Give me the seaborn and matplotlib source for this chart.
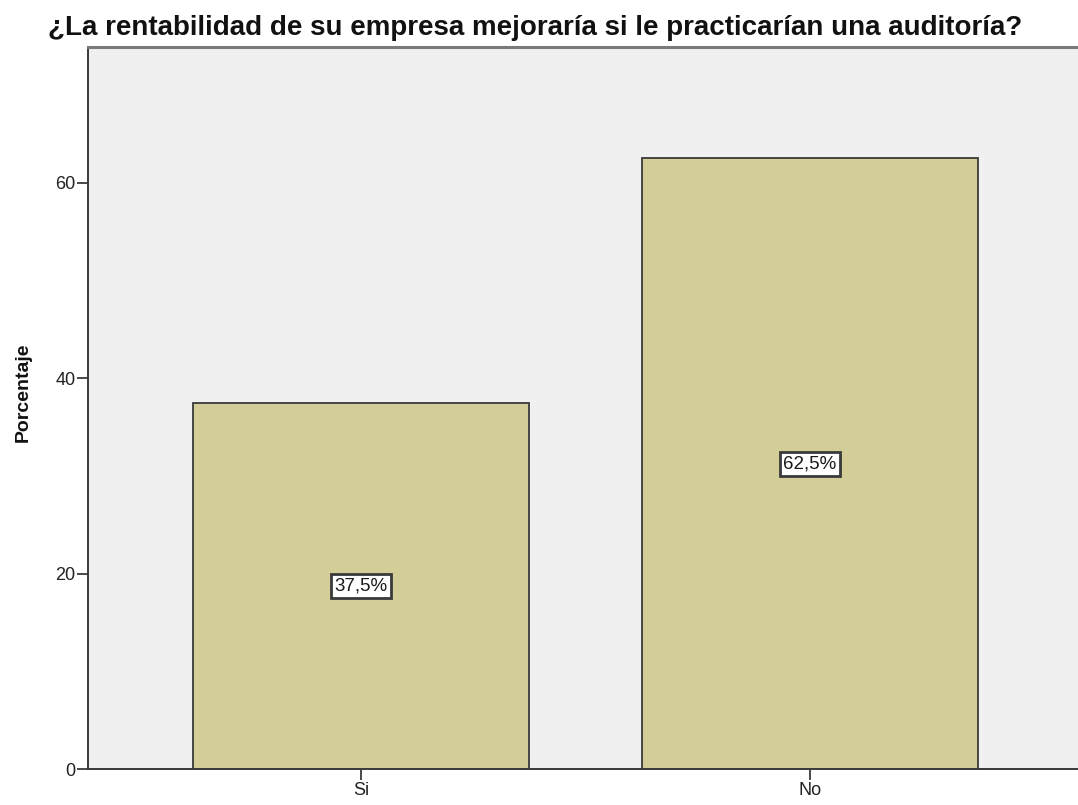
import pandas as pd
import seaborn as sns
import matplotlib
matplotlib.use('Agg')
import matplotlib.pyplot as plt

# Data
categories = ["Si", "No"]
percentages = [37.5, 62.5]
labels = ["37,5%", "62,5%"]

title = "¿La rentabilidad de su empresa mejoraría si le practicarían una auditoría?"


def main():
    df = pd.DataFrame({'respuesta': categories, 'porcentaje': percentages})

    sns.set_style('white')
    plt.rcParams['font.family'] = ['Liberation Sans', 'DejaVu Sans']

    fig = plt.figure(figsize=(10.78, 8.05), dpi=100)
    ax = fig.add_axes([0.0816, 0.0447, 0.923, 0.897])
    ax.set_facecolor('#F0F0F0')

    sns.barplot(data=df, x='respuesta', y='porcentaje', order=categories,
                color='#D3CE97', saturation=1, width=0.75,
                edgecolor='#3A3A3A', linewidth=1.3, ax=ax)

    # value labels in white boxes at half the bar height
    for i, (val, lab) in enumerate(zip(percentages, labels)):
        ax.text(i, val / 2, lab, ha='center', va='center', fontsize=13.5,
                color='#1A1A1A',
                bbox=dict(boxstyle='square,pad=0.18', facecolor='white',
                          edgecolor='#3A3A3A', linewidth=2))

    ax.set_xlim(-0.608, 1.608)
    ax.set_ylim(0, 73.9)
    ax.set_yticks([0, 20, 40, 60])

    ax.set_xlabel('')
    ax.set_ylabel('')
    fig.text(23 / 1078, 1 - 392 / 805, 'Porcentaje', rotation=90,
             ha='center', va='center', fontsize=14, fontweight='bold',
             color='#111111')

    for side in ['left', 'bottom']:
        ax.spines[side].set_visible(True)
        ax.spines[side].set_color('#3A3A3A')
        ax.spines[side].set_linewidth(1.4)
    ax.spines['top'].set_visible(True)
    ax.spines['top'].set_color('#7A7A7A')
    ax.spines['top'].set_linewidth(2.2)
    ax.spines['right'].set_visible(False)

    ax.tick_params(axis='both', which='both', direction='out', length=8,
                   width=1.3, color='#3A3A3A', labelsize=13,
                   labelcolor='#222222', left=True, bottom=True, pad=1)

    fig.text(48 / 1078, 1 - 35 / 805, title, ha='left', va='baseline',
             fontsize=20, fontweight='bold', color='#111111')

    fig.savefig('out.png', dpi=100)


if __name__ == '__main__':
    main()
